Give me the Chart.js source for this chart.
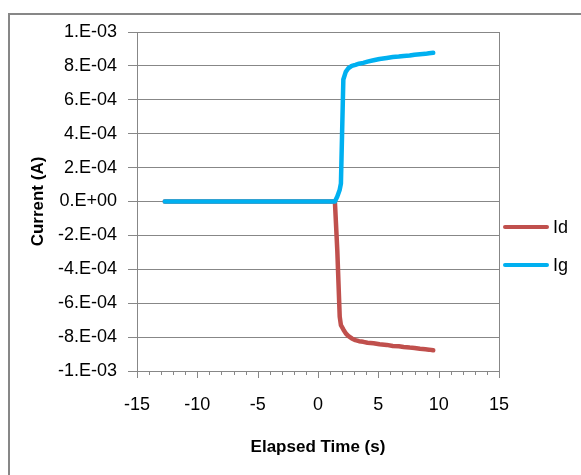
<!DOCTYPE html>
<html>
<head>
<meta charset="utf-8">
<script src="https://cdn.jsdelivr.net/npm/chart.js@4"></script>
<style>
  html, body { margin: 0; padding: 0; background: #fff; overflow: hidden; }
  #wrap { position: relative; width: 581px; height: 475px; overflow: hidden; }
  #frame { position: absolute; left: 8px; top: 13px; width: 700px; height: 600px; border: 2px solid #878787; }
  canvas { position: absolute; left: 0; top: 0; }
</style>
</head>
<body>
<div id="wrap">
  <div id="frame"></div>
  <canvas id="chart" width="581" height="475"></canvas>
</div>
<script>
// elapsed time (s) and currents (A)
const timeS = [-12.7, -11.0, -9.0, -7.0, -5.0, -3.0, -1.0, 0.5, 1.4, 1.6, 1.8, 1.9, 2.1, 2.3, 2.5, 2.8,
               3.1, 3.4, 3.75, 4.1, 4.6, 5.1, 5.7, 6.2, 6.7, 7.1, 7.6, 8.0, 8.45, 8.9, 9.2, 9.55];
const idAmps = [0, 0, 0, 0, 0, 0, 0, 0, 0, -2.9e-4, -6.8e-4, -7.3e-4, -7.55e-4, -7.78e-4, -7.93e-4, -8.08e-4,
                -8.18e-4, -8.24e-4, -8.28e-4, -8.33e-4, -8.36e-4, -8.42e-4, -8.46e-4, -8.52e-4, -8.54e-4, -8.58e-4,
                -8.62e-4, -8.64e-4, -8.69e-4, -8.72e-4, -8.74e-4, -8.78e-4];
const igAmps = [0, 0, 0, 0, 0, 0, 0, 0, 0, 0.3e-4, 0.7e-4, 1.06e-4, 7.2e-4, 7.65e-4, 7.85e-4, 8.0e-4,
                8.06e-4, 8.13e-4, 8.18e-4, 8.25e-4, 8.33e-4, 8.41e-4, 8.47e-4, 8.52e-4, 8.55e-4, 8.59e-4,
                8.61e-4, 8.66e-4, 8.69e-4, 8.71e-4, 8.75e-4, 8.77e-4];
const seriesNames = ['Id', 'Ig'];
const seriesColors = ['#C0504D', '#00B0F0'];
const xMajor = [-15, -10, -5, 0, 5, 10, 15];

const gridGray = '#878787';
Chart.defaults.font.family = "'Liberation Sans', Arial, sans-serif";
Chart.defaults.color = '#000';

// Excel "0.E+00" style number format
function sciLabel(v) {
    if (Math.abs(v) < 1e-12) return '0.E+00';
    let e = Math.floor(Math.log10(Math.abs(v)));
    let m = Math.round(v / Math.pow(10, e));
    if (Math.abs(m) >= 10) { m = m / 10; e += 1; }
    const sign = e < 0 ? '-' : '+';
    return m + '.E' + sign + String(Math.abs(e)).padStart(2, '0');
}

// minor/major tick marks under the x axis
const xTickMarks = {
    id: 'xTickMarks',
    afterDraw(chart) {
        const x = chart.scales.x;
        const ctx = chart.ctx;
        const y0 = chart.chartArea.bottom;
        ctx.save();
        ctx.strokeStyle = gridGray;
        ctx.lineWidth = 1;
        for (let v = x.min; v <= x.max; v++) {
            const px = Math.round(x.getPixelForValue(v)) + 0.5;
            const len = xMajor.includes(v) ? 7 : 4;
            ctx.beginPath();
            ctx.moveTo(px, y0);
            ctx.lineTo(px, y0 + len);
            ctx.stroke();
        }
        ctx.restore();
    }
};

// legend to the right of the plot
const sideLegend = {
    id: 'sideLegend',
    afterDraw(chart) {
        const ctx = chart.ctx;
        const left = chart.chartArea.right + 6;
        ctx.save();
        ctx.font = "18px 'Liberation Sans', Arial, sans-serif";
        ctx.textBaseline = 'middle';
        chart.data.datasets.forEach((ds, i) => {
            const y = 227 + i * 38;
            ctx.strokeStyle = ds.borderColor;
            ctx.lineWidth = 4;
            ctx.lineCap = 'round';
            ctx.beginPath();
            ctx.moveTo(left, y);
            ctx.lineTo(left + 42, y);
            ctx.stroke();
            ctx.fillStyle = '#000';
            ctx.fillText(ds.label, left + 48, y + 1);
        });
        ctx.restore();
    }
};

const toPoints = vals => timeS.map((t, i) => ({ x: t, y: vals[i] }));

const lineStyle = color => ({
    borderColor: color,
    backgroundColor: color,
    showLine: true,
    borderWidth: 4.5,
    borderCapStyle: 'round',
    borderJoinStyle: 'round',
    pointRadius: 1.5,
    pointBorderWidth: 0,
    tension: 0
});

new Chart(document.getElementById('chart'), {
    type: 'scatter',
    data: {
        datasets: [
            Object.assign({ label: seriesNames[0], data: toPoints(idAmps), order: 1 }, lineStyle(seriesColors[0])),
            Object.assign({ label: seriesNames[1], data: toPoints(igAmps), order: 0 }, lineStyle(seriesColors[1]))
        ]
    },
    options: {
        responsive: false,
        animation: false,
        layout: { padding: { top: 32, right: 82, left: 0, bottom: 0 } },
        plugins: {
            legend: { display: false },
            tooltip: { enabled: false }
        },
        scales: {
            x: {
                type: 'linear',
                min: -15,
                max: 15,
                afterFit: s => { s.height = 104; },
                ticks: {
                    stepSize: 5,
                    padding: 23,
                    font: { size: 18 },
                    color: '#000'
                },
                grid: {
                    drawTicks: false,
                    color: c => (c.tick && c.tick.value === 15 ? gridGray : 'rgba(0,0,0,0)')
                },
                border: { display: true, color: gridGray },
                title: {
                    display: true,
                    text: 'Elapsed Time (s)',
                    font: { size: 17, weight: 'bold' },
                    color: '#000',
                    padding: { top: 0, bottom: 17 }
                }
            },
            y: {
                min: -1e-3,
                max: 1e-3,
                afterFit: s => { s.width = 137; },
                ticks: {
                    stepSize: 2e-4,
                    padding: 11,
                    font: { size: 18 },
                    color: '#000',
                    callback: v => sciLabel(v)
                },
                grid: {
                    color: gridGray,
                    tickColor: gridGray,
                    tickLength: 9
                },
                border: { display: true, color: gridGray },
                title: {
                    display: true,
                    text: 'Current (A)',
                    font: { size: 17, weight: 'bold' },
                    color: '#000',
                    padding: { top: 28, bottom: 0 }
                }
            }
        }
    },
    plugins: [xTickMarks, sideLegend]
});
</script>
</body>
</html>
